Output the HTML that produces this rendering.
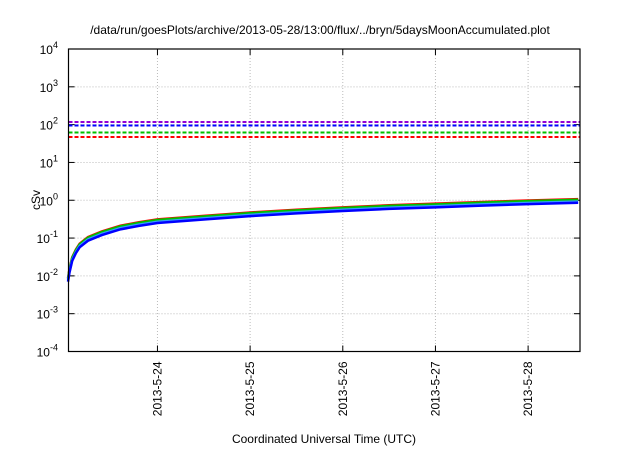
<!DOCTYPE html>
<html><head><meta charset="utf-8"><style>
body{margin:0;background:#fff;font-family:"Liberation Sans",sans-serif}
</style></head><body>
<svg id="c" width="640" height="448" xmlns="http://www.w3.org/2000/svg" font-family="Liberation Sans, sans-serif"></svg>
<script>
const times=[0.035,0.05,0.08,0.12,0.16,0.25,0.4,0.6,0.8,1,1.5,2,2.5,3,3.5,4,4.5,5,5.54];
const blueVals=[0.007,0.012,0.025,0.04,0.057,0.085,0.12,0.17,0.21,0.25,0.31,0.38,0.45,0.52,0.59,0.65,0.72,0.79,0.86];
const lightBlueVals=[0.0076,0.013,0.027,0.043,0.062,0.092,0.13,0.184,0.227,0.27,0.335,0.41,0.486,0.56,0.637,0.70,0.78,0.853,0.93];
const greenVals=[0.0084,0.0144,0.03,0.048,0.068,0.102,0.144,0.204,0.252,0.30,0.372,0.456,0.54,0.624,0.708,0.78,0.864,0.948,1.03];
const redVals=[0.0088,0.015,0.031,0.05,0.071,0.106,0.15,0.212,0.262,0.312,0.387,0.475,0.562,0.65,0.737,0.812,0.9,0.987,1.075];
const limitNames=['purple','blue','green','red'];
const limitVals=[117,95,62,47];
const limitColors=['#9400d3','#0000ff','#00c000','#ff0000'];
const xTicks=['2013-5-24','2013-5-25','2013-5-26','2013-5-27','2013-5-28'];
const xTickDays=[1,2,3,4,5];
const yExp=[-4,-3,-2,-1,0,1,2,3,4];
const X0=68.5,X1=580,Y0=49,Y1=351.5,D0=0.04,D1=5.56;
const xs=d=>X0+(d-D0)/(D1-D0)*(X1-X0);
const ys=v=>Y0+(4-Math.log10(v))/8*(Y1-Y0);
const svg=document.getElementById('c');const NS='http://www.w3.org/2000/svg';
function mk(t,a,p){const e=document.createElementNS(NS,t);for(const k in a)e.setAttribute(k,a[k]);(p||svg).appendChild(e);return e;}
let t=mk('text',{x:320,y:34,'text-anchor':'middle','font-size':12});t.textContent='/data/run/goesPlots/archive/2013-05-28/13:00/flux/../bryn/5daysMoonAccumulated.plot';


yExp.forEach(e=>{const y=ys(Math.pow(10,e));
 if(e>-4&&e<4){const g=mk('line',{x1:X0,x2:X1,y1:y,y2:y,stroke:'#bbb','stroke-dasharray':'1,2','stroke-width':1});
 
 }
 mk('line',{x1:X0,x2:X0+6,y1:y,y2:y,stroke:'#000'});mk('line',{x1:X1,x2:X1-6,y1:y,y2:y,stroke:'#000'});
 const tx=mk('text',{x:58,y:y+5,'text-anchor':'end','font-size':12});
 
 
 tx.textContent='10';const s=mk('tspan',{dy:-6,'font-size':9},tx);s.textContent=e;});
xTickDays.forEach((d,i)=>{const x=xs(d);
 const g=mk('line',{x1:x,x2:x,y1:Y0,y2:Y1,stroke:'#bbb','stroke-dasharray':'1,2'});
 
 
 mk('line',{x1:x,x2:x,y1:Y1,y2:Y1-6,stroke:'#000'});mk('line',{x1:x,x2:x,y1:Y0,y2:Y0+6,stroke:'#000'});
 const tx=mk('text',{x:0,y:0,'text-anchor':'end','font-size':12,transform:`translate(${x+4},${Y1+10}) rotate(-90)`});
 
 
 tx.textContent=xTicks[i];});
limitVals.forEach((v,i)=>{const l=mk('line',{x1:X0,x2:X1,y1:ys(v),y2:ys(v),stroke:limitColors[i],'stroke-width':2,'stroke-dasharray':'4,2'});
 
 });
[[redVals,'#ff0000','red'],[greenVals,'#00c000','green'],[lightBlueVals,'#3399ff','light-blue'],[blueVals,'#0000ff','blue']].forEach(([vals,c,n])=>{
 const p=mk('polyline',{points:times.map((d,i)=>xs(d)+','+ys(vals[i])).join(' '),fill:'none',stroke:c,'stroke-width':2.5});
 
 });
const r=mk('rect',{x:X0,y:Y0,width:X1-X0,height:Y1-Y0,fill:'none',stroke:'#000','stroke-width':1.2});


t=mk('text',{x:0,y:0,'text-anchor':'middle','font-size':12,transform:'translate(40,200) rotate(-90)'});t.textContent='cSv';


t=mk('text',{x:324,y:443,'text-anchor':'middle','font-size':12});t.textContent='Coordinated Universal Time (UTC)';


</script>
</body></html>
